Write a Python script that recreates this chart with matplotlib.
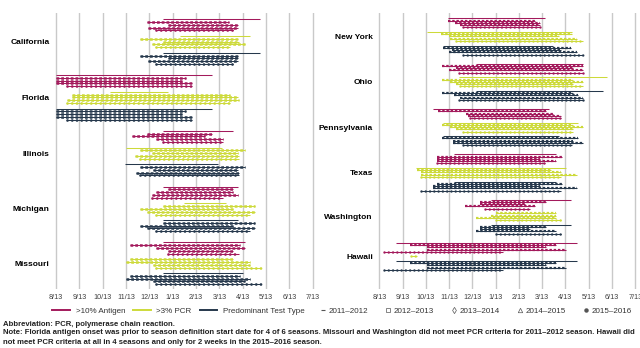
import matplotlib
matplotlib.use("Agg")
import matplotlib.pyplot as plt
from matplotlib.lines import Line2D

# x values are months after 8/13 (onset, offset); None = criteria not met
months = ["8/13", "9/13", "10/13", "11/13", "12/13", "1/13", "2/13", "3/13",
          "4/13", "5/13", "6/13", "7/13"]
seasons = ["2011\u20132012", "2012\u20132013", "2013\u20132014", "2014\u20132015", "2015\u20132016"]
groups = [">10% Antigen", ">3% PCR", "Predominant Test Type"]

california_antigen = [(4.6, 8.74), (3.9, 7.4), (4.8, 7.8), (3.95, 7.8), (4.3, 7.6)]
california_pcr = [(5.3, 8.3), (3.6, 7.8), (4.6, 7.85), (4.1, 8.1), (4.3, 7.45)]
california_pred = [(4.6, 8.74), (3.6, 7.8), (4.8, 7.8), (3.95, 7.8), (4.3, 7.6)]

florida_antigen = [(0, 6.67), (0, 5.57), (0, 5.39), (0, 5.81), (0.46, 5.81)]
florida_pcr = [(2.31, 4.81), (0.67, 7.46), (0.67, 7.8), (0.46, 7.85), (0.46, 7.46)]
florida_pred = [(0, 6.67), (0, 5.57), (0, 5.39), (0, 5.81), (0.46, 5.81)]

illinois_antigen = [(4.6, 7.6), (3.9, 6.67), (3.25, 6.4), (4.3, 7.14), (4.57, 7.14)]
illinois_pcr = [(3.0, 7.1), (3.6, 8.1), (4.1, 7.8), (3.4, 7.85), (3.6, 7.85)]
illinois_pred = [(2.96, 6.96), (3.6, 8.1), (4.17, 7.8), (3.43, 7.86), (3.6, 7.86)]

michigan_antigen = [(4.6, 7.8), (4.8, 7.6), (4.3, 7.6), (4.1, 7.8), (4.1, 7.17)]
michigan_pcr = [(5.5, 7.3), (4.57, 8.53), (3.6, 7.6), (3.89, 8.53), (4.3, 8.3)]
michigan_pred = [(4.57, 7.8), (4.57, 8.53), (3.6, 7.6), (3.89, 8.53), (4.3, 8.3)]

missouri_antigen = [(4.6, 8.1), (3.17, 7.89), (4.3, 8.1), (4.8, 7.6), (4.8, 7.86)]
missouri_pcr = [None, (3.17, 7.6), (3.0, 8.3), (4.17, 8.3), (4.3, 8.77)]
missouri_pred = [(4.6, 8.03), (3.17, 7.89), (3.0, 8.3), (4.17, 8.1), (4.3, 8.77)]

new_york_antigen = [(2.96, 7.14), (2.96, 6.67), (3.24, 6.89), (3.46, 6.89), (3.6, 6.89)]
new_york_pcr = [(2.06, 8.3), (2.67, 8.3), (3.0, 7.74), (3.03, 8.49), (3.31, 8.74)]
new_york_pred = [(2.74, 7.46), (2.74, 8.24), (3.14, 7.81), (3.0, 8.49), (3.6, 8.74)]

ohio_antigen = [(4.14, 8.74), (2.71, 8.74), (3.31, 8.31), (3.0, 8.74), (3.43, 8.74)]
ohio_pcr = [(3.43, 9.77), (2.71, 8.31), (3.03, 8.74), (3.31, 8.31), (3.46, 8.74)]
ohio_pred = [(4.14, 9.63), (2.71, 8.31), (3.21, 8.53), (3.46, 8.74), (3.43, 8.74)]

pennsylvania_antigen = [(2.29, 7.31), (2.53, 7.17), (3.74, 7.46), (3.81, 7.81), (3.89, 7.81)]
pennsylvania_pcr = [(2.74, 8.53), (2.71, 8.31), (3.03, 8.74), (3.31, 8.31), (3.6, 8.31)]
pennsylvania_pred = [(2.74, 7.74), (2.71, 8.53), (3.17, 8.31), (3.17, 8.74), (3.6, 8.29)]

texas_antigen = [(3.2, 7.6), (2.49, 7.86), (2.49, 6.89), (2.49, 7.6), (2.49, 7.14)]
texas_pcr = [(1.57, 8.03), (1.6, 7.39), (1.81, 7.81), (1.81, 8.49), (1.81, 7.81)]
texas_pred = [(3.2, 7.6), (2.49, 7.86), (2.31, 6.89), (2.31, 8.49), (1.81, 7.81)]

washington_antigen = [(4.81, 8.24), (4.31, 7.17), (4.31, 6.24), (3.67, 6.67), (4.53, 6.46)]
washington_pcr = [None, (5.0, 7.6), (4.81, 7.6), (4.14, 7.6), (5.0, 7.81)]
washington_pred = [(4.81, 8.24), (4.31, 7.17), (4.31, 6.46), (4.14, 7.6), (5.0, 7.81)]

hawaii_antigen = [(0.71, 8.49), (1.31, 7.6), (2.03, 7.17), (2.03, 8.03), (0.2, 5.31)]
hawaii_pcr = [None, None, None, None, (1.34, 1.63)]
hawaii_pred = [(0.71, 8.49), (1.31, 7.6), (2.03, 7.17), (2.03, 8.03), (0.2, 5.31)]

left_states = ["California", "Florida", "Illinois", "Michigan", "Missouri"]
left_rows = [
    (california_antigen, california_pcr, california_pred),
    (florida_antigen, florida_pcr, florida_pred),
    (illinois_antigen, illinois_pcr, illinois_pred),
    (michigan_antigen, michigan_pcr, michigan_pred),
    (missouri_antigen, missouri_pcr, missouri_pred),
]
right_states = ["New York", "Ohio", "Pennsylvania", "Texas", "Washington", "Hawaii"]
right_rows = [
    (new_york_antigen, new_york_pcr, new_york_pred),
    (ohio_antigen, ohio_pcr, ohio_pred),
    (pennsylvania_antigen, pennsylvania_pcr, pennsylvania_pred),
    (texas_antigen, texas_pcr, texas_pred),
    (washington_antigen, washington_pcr, washington_pred),
    (hawaii_antigen, hawaii_pcr, hawaii_pred),
]

group_colors = ["#a31a5c", "#cdda3a", "#26384c"]
plt.rcParams["font.family"] = ["Liberation Sans", "DejaVu Sans"]


def draw_panel(ax, states, rows, mlw):
    # one row per season, rows that did not meet criteria are left out
    pos = 0
    centers = []
    for state_rows in rows:
        first = pos
        for color, segs in zip(group_colors, state_rows):
            for k, seg in enumerate(segs):
                if seg is None:
                    continue
                ax.plot(seg, [pos, pos], color=color, lw=0.75, solid_capstyle="butt")
                if k in (1, 2, 3):
                    ax.plot(seg, [pos, pos], color=color, lw=mlw,
                            ls=(0, (1.1, 0.8)), dash_capstyle="butt")
                elif k == 4:
                    ax.plot(seg, [pos, pos], color=color, lw=mlw + 0.2,
                            ls=(0, (0.01, 1.7)), dash_capstyle="round")
                pos += 1
            pos += 1
        centers.append((first + pos - 2) / 2)
        pos += 2
    ax.set_yticks(centers, states)
    ax.set_xticks(range(12), months)
    ax.set_xlim(-0.1, 11.1)
    ax.grid(axis="x", color="#c9c9c9", lw=1.0)
    ax.set_axisbelow(True)
    for sp in ax.spines.values():
        sp.set_visible(False)
    ax.tick_params(axis="x", length=0, pad=3.5, labelsize=5.2, labelcolor="#404040")
    ax.tick_params(axis="y", length=0, pad=3, labelsize=6)
    for lab in ax.get_yticklabels():
        lab.set_fontweight("bold")


fig = plt.figure(figsize=(6.4, 3.48), dpi=100)
H = 348.0
ax_l = fig.add_axes([53.7 / 640, 1 - 289 / H, 261.4 / 640, 276.5 / H])
ax_r = fig.add_axes([377.0 / 640, 1 - 289 / H, 260.6 / 640, 276.5 / H])
draw_panel(ax_l, left_states, left_rows, 1.8)
ax_l.set_ylim(96.7, -2.44)
draw_panel(ax_r, right_states, right_rows, 1.6)
ax_r.set_ylim(119.4, -2.56)

group_handles = [Line2D([], [], color=c, lw=1.4) for c in group_colors]
fig.legend(group_handles, groups, loc="center", bbox_to_anchor=(178.5 / 640, 1 - 311 / H),
           ncol=3, frameon=False, fontsize=5.8, handlelength=2.2, handletextpad=0.7,
           columnspacing=1.0, labelcolor="#333333", borderpad=0)
gray = "#555555"
season_handles = [
    Line2D([], [], ls="none", marker="_", color=gray, markersize=3, markeredgewidth=0.8),
    Line2D([], [], ls="none", marker="s", color=gray, markerfacecolor="none", markersize=2.8, markeredgewidth=0.5),
    Line2D([], [], ls="none", marker="d", color=gray, markerfacecolor="none", markersize=3.2, markeredgewidth=0.5),
    Line2D([], [], ls="none", marker="^", color=gray, markerfacecolor="none", markersize=3.2, markeredgewidth=0.5),
    Line2D([], [], ls="none", marker="o", color=gray, markersize=2.2),
]
fig.legend(season_handles, seasons, loc="center", bbox_to_anchor=(476 / 640, 1 - 311 / H),
           ncol=5, frameon=False, fontsize=5.8, handlelength=0.8, handletextpad=0.3,
           columnspacing=2.1, labelcolor="#333333", borderpad=0)

note_kw = dict(fontsize=5.55, fontweight="bold", va="center", color="#222222")
fig.text(3 / 640, 1 - 324 / H, "Abbreviation: PCR, polymerase chain reaction.", **note_kw)
fig.text(3 / 640, 1 - 333 / H,
         "Note: Florida antigen onset was prior to season definition start date for 4 of 6 seasons. "
         "Missouri and Washington did not meet PCR criteria for 2011\u20132012 season. Hawaii did",
         **note_kw)
fig.text(3 / 640, 1 - 342 / H,
         "not meet PCR criteria at all in 4 seasons and only for 2 weeks in the 2015\u20132016 season.",
         **note_kw)

fig.savefig("out.png", dpi=100)
